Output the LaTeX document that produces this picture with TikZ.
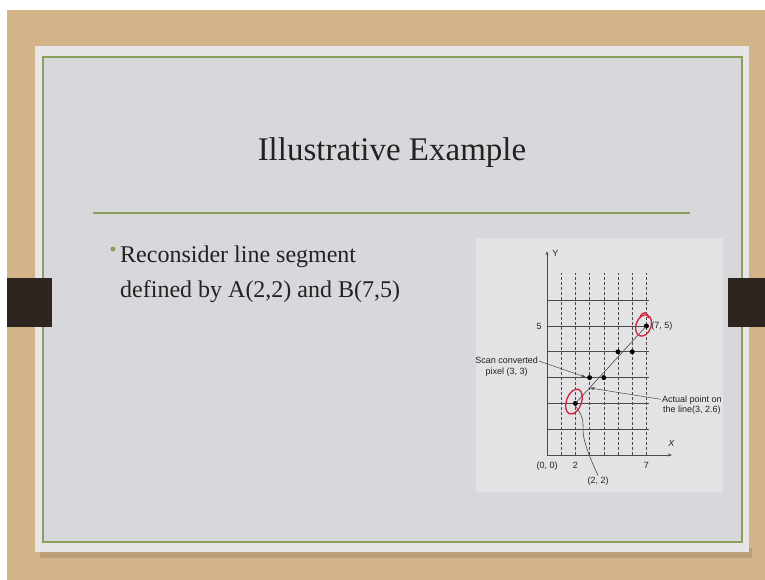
\documentclass[tikz,border=0pt]{standalone}
\usepackage{fontspec}
\setmainfont{Liberation Serif}
\setsansfont{Liberation Sans}
\usetikzlibrary{arrows.meta, positioning, calc}
\definecolor{wood}{HTML}{D3B488}
\definecolor{rim}{HTML}{E6E6E8}
\definecolor{slide}{HTML}{D8D7DB}
\definecolor{panel}{HTML}{E3E3E5}
\definecolor{olive}{HTML}{8A9F5B}
\definecolor{tab}{HTML}{2E2420}
\definecolor{ink}{HTML}{222222}
\definecolor{grid}{HTML}{4A4A4A}
\definecolor{pen}{HTML}{D0213A}
\tikzset{
  ttl/.style={font=\fontsize{33}{38}\selectfont, text=ink, inner sep=0pt},
  body/.style={font=\fontsize{24}{35}\selectfont, text=ink, align=left, inner sep=0pt},
  lbl/.style={font=\sffamily\fontsize{9}{10.5}\selectfont, text=ink, inner sep=1pt, align=center},
  pix/.style={circle, fill=black, inner sep=0pt, minimum size=5pt},
  gline/.style={draw=grid, line width=0.7pt},
  dline/.style={draw=grid, line width=0.5pt, dash pattern=on 3pt off 2pt},
  fl/.style={-{Stealth[length=5pt, width=3pt]}, line width=0.5pt, draw=grid},
  ring/.style={draw=pen, line width=1.3pt},
}

\begin{document}
\begin{tikzpicture}[x=1pt, y=-1pt]
  \useasboundingbox (0,0) rectangle (765,580);
  \fill[white] (0,0) rectangle (765,580);
  \fill[wood] (7,10) rectangle (765,580);
  % slide
  \fill[black, opacity=0.12] (40,548) rectangle (752,558);
  \fill[rim] (35,46) rectangle (749,552);
  \draw[olive, line width=2pt, fill=slide] (43,57) rectangle (742,542);
  \fill[tab] (7,278) rectangle (52,327);
  \fill[tab] (728,278) rectangle (765,327);

  % title and text
  \node[ttl] (title) at (392,153) {Illustrative Example};
  \draw[olive, line width=1.5pt] (93,213) -- (690,213);
  \node[body, anchor=north west] (txt) at (120,246) {Reconsider line segment\\defined by A(2,2) and B(7,5)};
  \node[circle, fill=olive, inner sep=0pt, minimum size=5pt] (dot) at (113,249) {};

  % graph
  \fill[panel] (476,238) rectangle (723,492);
  \begin{scope}[shift={(547,455)}, x=14.2pt, y=25.8pt]
    \foreach \i in {1,...,7} \draw[dline] (\i,0) -- (\i,7.05);
    \foreach \j in {1,...,6} \draw[gline] (0,\j) -- (7.2,\j);
    \draw[gline, -{Stealth[length=4pt, width=3pt]}] (0,0) -- (8.8,0);
    \draw[gline, -{Stealth[length=4pt, width=3pt]}] (0,0) -- (0,7.9);
    \foreach \p/\q [count=\k] in {2/2, 3/3, 4/3, 5/4, 6/4, 7/5}
      \node[pix] (p\k) at (\p,\q) {};
    \draw[grid, line width=0.6pt] (p1.center) -- (p6.center);
    \coordinate (onl) at (3,2.6);

    \node[lbl, anchor=west] (ylab) at (0.3,7.8) {Y};
    \node[lbl] (xlab) at (8.75,0.45) {\itshape X};
    \node[lbl, anchor=east] (five) at (-0.3,5) {5};
    \node[lbl, anchor=north] (orig) at (0,-0.22) {(0, 0)};
    \node[lbl, anchor=north] (two) at (2,-0.22) {2};
    \node[lbl, anchor=north] (seven) at (7,-0.22) {7};
    \node[lbl, right=1pt of p6] (b75) {(7, 5)};
    \node[lbl, anchor=north] (a22) at (3.6,-0.8) {(2, 2)};
    \node[lbl] (scan) at (-2.84,3.42) {Scan converted\\pixel (3, 3)};
    \node[lbl] (act) at (10.2,1.94) {Actual point on\\the line(3, 2.6)};

    \draw[fl, shorten >=1pt] ([yshift=-5pt]scan.north east) -- (p2.west);
    \draw[fl] ([yshift=-5pt]act.north west) -- (onl);
    \draw[grid, line width=0.6pt] (a22.north) .. controls (3.0,-0.1) and (2.6,0.5) .. (2.55,0.85)
      .. controls (2.5,1.2) and (2.7,1.4) .. (p1.south);

    % pen marks
    \draw[ring] (1.9,2.07) ellipse [x radius=7.5pt, y radius=13pt, rotate=-20];
    \draw[ring] (6.8,5.02) ellipse [x radius=7.5pt, y radius=11pt, rotate=-20];
    \draw[ring] (6.55,5.35) .. controls (6.75,5.6) and (7.1,5.55) .. (7.15,5.3);
  \end{scope}
\end{tikzpicture}
\end{document}
